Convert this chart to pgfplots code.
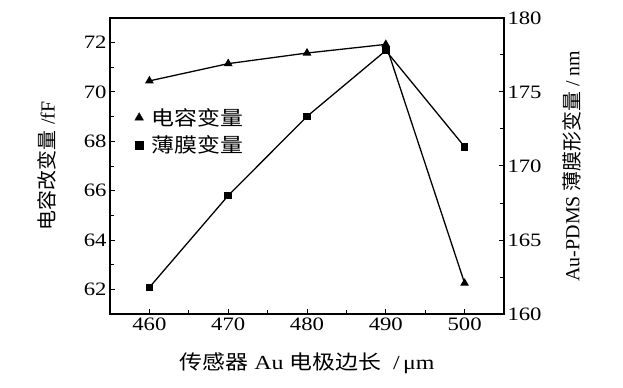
\documentclass[border=0pt]{standalone}
\usepackage{pgfplots}
\pgfplotsset{compat=1.18}
\usepackage{fontspec}
\setmainfont{Liberation Serif}[FakeStretch=1.2]
\newfontfamily\serifr{Liberation Serif}
\newfontfamily\cjk{Noto Sans CJK SC}
\newfontfamily\cjkw{Noto Sans CJK SC}[FakeStretch=1.15]
\begin{document}
\begin{tikzpicture}
\pgfplotsset{
  common/.style={
    at={(0,0)}, anchor=south west,
    scale only axis, width=394bp, height=296bp,
    xmin=455, xmax=505,
    tick align=inside,
    major tick length=5.5bp, minor tick length=4bp,
    axis line style={line width=1.1pt},
    every tick/.style={black, line width=1pt},
    every minor tick/.style={black, line width=1pt},
    tick label style={font=\fontsize{19}{19}\selectfont},
    /pgf/number format/assume math mode=true,
  }
}
\begin{axis}[common,
  ymin=61, ymax=73,
  xtick={460,470,480,490,500}, minor x tick num=1,
  ytick={62,64,66,68,70,72}, minor y tick num=1,
  xtick pos=bottom, ytick pos=left,
  xlabel={{\cjkw 传感器} Au {\cjkw 电极边长} \ /\,μm},
  xlabel style={font=\fontsize{20}{20}\selectfont, at={(axis description cs:0.5,-0.165)}, anchor=center},
  ylabel={{\cjk 电容改变量}\ \serifr /fF},
  ylabel style={font=\fontsize{20}{20}\selectfont, at={(axis description cs:-0.16,0.5)}, anchor=center, rotate=0},
  legend style={at={(axis description cs:0.06,0.705)}, anchor=north west, draw=none, fill=none,
    font=\fontsize{20}{24}\selectfont\cjkw, row sep=5bp, inner sep=1bp,
    /tikz/every odd column/.append style={column sep=6bp}},
  legend cell align=left,
]
\addplot[black, line width=1.3pt, mark=triangle*, mark size=3.8bp, forget plot] coordinates {
  (460,70.45) (470,71.15) (480,71.58) (490,71.93) (500,62.25)
};
\addlegendimage{only marks, mark=triangle*, mark size=5bp, black}
\addlegendentry{电容变量}
\addlegendimage{only marks, mark=square*, mark size=3.8bp, black}
\addlegendentry{薄膜变量}
\end{axis}
\begin{axis}[common,
  ymin=160, ymax=180,
  ytick={160,165,170,175,180}, minor y tick num=1,
  axis y line*=right, axis x line=none,
  ylabel={\serifr Au-PDMS {\cjk 薄膜形变量} / nm},
  ylabel style={font=\fontsize{20}{20}\selectfont, at={(axis description cs:1.172,0.5)}, anchor=center, rotate=0},
]
\addplot[black, line width=1.3pt, mark=square*, mark size=3.2bp] coordinates {
  (460,161.8) (470,168.0) (480,173.35) (490,177.8) (500,171.3)
};
\end{axis}
\pgfresetboundingbox
\path[use as bounding box] (-110bp,-74bp) rectangle (513bp,314bp);
\end{tikzpicture}
\end{document}
